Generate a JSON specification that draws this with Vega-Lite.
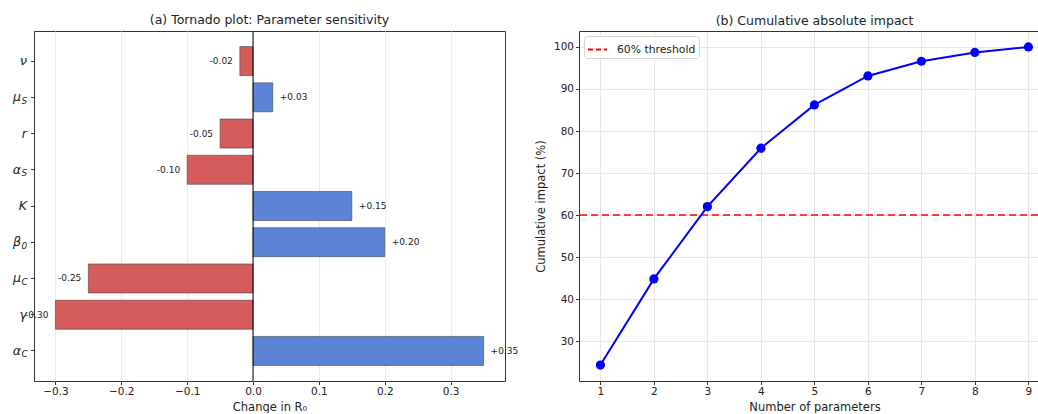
{
  "$schema": "https://vega.github.io/schema/vega-lite/v6.json",
  "padding": {"left": 12, "top": 13, "right": 0, "bottom": 0},
  "config": {
    "font": "DejaVu Sans",
    "view": {"stroke": null},
    "axis": {"labelFontSize": 10.5, "titleFontSize": 11.5, "titleFontWeight": "normal", "labelColor": "#222", "titleColor": "#222", "tickColor": "#333", "domainColor": "#333", "tickSize": 3.5, "titlePadding": 4},
    "title": {"fontSize": 12.5, "fontWeight": "normal", "color": "#222"}
  },
  "datasets": {
    "tornado": [
      {"param": "ν", "sym": "ν", "value": -0.02, "label": "-0.02"},
      {"param": "μ_S", "sym": "μ", "sub": "S", "value": 0.03, "label": "+0.03"},
      {"param": "r", "sym": "r", "value": -0.05, "label": "-0.05"},
      {"param": "α_S", "sym": "α", "sub": "S", "value": -0.10, "label": "-0.10"},
      {"param": "K", "sym": "K", "value": 0.15, "label": "+0.15"},
      {"param": "β_0", "sym": "β", "sub": "0", "value": 0.20, "label": "+0.20"},
      {"param": "μ_C", "sym": "μ", "sub": "C", "value": -0.25, "label": "-0.25"},
      {"param": "γ", "sym": "γ", "value": -0.30, "label": "-0.30"},
      {"param": "α_C", "sym": "α", "sub": "C", "value": 0.35, "label": "+0.35"}
    ],
    "cumulative": [
      {"n": 1, "pct": 24.3},
      {"n": 2, "pct": 44.8},
      {"n": 3, "pct": 62.0},
      {"n": 4, "pct": 75.9},
      {"n": 5, "pct": 86.2},
      {"n": 6, "pct": 93.1},
      {"n": 7, "pct": 96.6},
      {"n": 8, "pct": 98.7},
      {"n": 9, "pct": 100.0}
    ]
  },
  "resolve": {"scale": {"color": "independent"}, "legend": {"color": "independent"}},
  "spacing": 74,
  "bounds": "flush",
  "hconcat": [
    {
      "width": 471,
      "height": 350,
      "title": {"text": "(a) Tornado plot: Parameter sensitivity"},
      "view": {"stroke": "#333", "strokeWidth": 1},
      "layer": [
        {
          "data": {"name": "tornado"},
          "mark": {"type": "bar", "stroke": "#444", "strokeWidth": 0.6},
          "encoding": {
            "y": {"field": "param", "type": "nominal", "sort": null, "scale": {"paddingInner": 0.2, "paddingOuter": 0.43},
                  "axis": {"title": null, "labels": false, "domain": false, "grid": false}},
            "x": {"field": "value", "type": "quantitative", "scale": {"domain": [-0.3325, 0.3825], "nice": false},
                  "axis": {"values": [-0.3, -0.2, -0.1, 0, 0.1, 0.2, 0.3], "format": ".1f", "title": "Change in R₀", "grid": true, "gridColor": "#ebebeb", "domain": false}},
            "color": {"condition": {"test": "datum.value < 0", "value": "#d65b5b"}, "value": "#5b84d6"}
          }
        },
        {
          "data": {"values": [{}]},
          "mark": {"type": "rule", "color": "#000000", "strokeWidth": 1},
          "encoding": {"x": {"datum": 0}}
        },
        {
          "data": {"name": "tornado"},
          "transform": [{"filter": "!isValid(datum.sub)"}],
          "mark": {"type": "text", "align": "right", "baseline": "middle", "dx": -7, "fontSize": 12.5, "fontStyle": "italic", "color": "#222"},
          "encoding": {
            "y": {"field": "param", "type": "nominal", "sort": null},
            "x": {"datum": -0.3325},
            "text": {"field": "sym"}
          }
        },
        {
          "data": {"name": "tornado"},
          "transform": [{"filter": "isValid(datum.sub)"}],
          "mark": {"type": "text", "align": "right", "baseline": "middle", "dx": -13, "fontSize": 12.5, "fontStyle": "italic", "color": "#222"},
          "encoding": {
            "y": {"field": "param", "type": "nominal", "sort": null},
            "x": {"datum": -0.3325},
            "text": {"field": "sym"}
          }
        },
        {
          "data": {"name": "tornado"},
          "transform": [{"filter": "isValid(datum.sub)"}],
          "mark": {"type": "text", "align": "left", "baseline": "middle", "dx": -12.5, "dy": 3.5, "fontSize": 9, "fontStyle": "italic", "color": "#222"},
          "encoding": {
            "y": {"field": "param", "type": "nominal", "sort": null},
            "x": {"datum": -0.3325},
            "text": {"field": "sub"}
          }
        },
        {
          "data": {"name": "tornado"},
          "transform": [{"filter": "datum.value < 0"}],
          "mark": {"type": "text", "align": "right", "dx": -7, "fontSize": 9, "color": "#222"},
          "encoding": {
            "y": {"field": "param", "type": "nominal", "sort": null},
            "x": {"field": "value", "type": "quantitative"},
            "text": {"field": "label"}
          }
        },
        {
          "data": {"name": "tornado"},
          "transform": [{"filter": "datum.value >= 0"}],
          "mark": {"type": "text", "align": "left", "dx": 7, "fontSize": 9, "color": "#222"},
          "encoding": {
            "y": {"field": "param", "type": "nominal", "sort": null},
            "x": {"field": "value", "type": "quantitative"},
            "text": {"field": "label"}
          }
        }
      ]
    },
    {
      "width": 459,
      "height": 350,
      "title": {"text": "(b) Cumulative absolute impact", "dx": 6},
      "resolve": {"axis": {"x": "independent"}},
      "layer": [
        {
          "data": {"values": [{}]},
          "mark": {"type": "rule", "strokeDash": [7, 4], "strokeWidth": 1.5},
          "encoding": {
            "y": {"datum": 60, "type": "quantitative", "scale": {"domain": [20.5, 103.8], "nice": false, "zero": false},
                  "axis": {"values": [30, 40, 50, 60, 70, 80, 90, 100], "title": "Cumulative impact (%)", "grid": true, "gridColor": "#e6e6e6", "titlePadding": 7}},
            "color": {"datum": "60% threshold", "scale": {"range": ["#ff0000"]},
                      "legend": {"title": null, "orient": "top-left", "offset": 5, "symbolType": "stroke", "symbolDash": [5, 3], "symbolStrokeWidth": 2, "symbolSize": 360, "labelFontSize": 10.8, "labelColor": "#222", "fillColor": "white", "strokeColor": "#d5d5d5", "cornerRadius": 3, "padding": 3, "labelOffset": 9}}
          }
        },
        {
          "data": {"name": "cumulative"},
          "mark": {"type": "line", "color": "#0000ff", "strokeWidth": 2},
          "encoding": {
            "x": {"field": "n", "type": "quantitative", "scale": {"domain": [0.6, 9.18], "nice": false, "zero": false},
                  "axis": {"values": [1, 2, 3, 4, 5, 6, 7, 8, 9], "title": "Number of parameters", "grid": true, "gridColor": "#e6e6e6", "titleX": 235.5}},
            "y": {"field": "pct", "type": "quantitative"}
          }
        },
        {
          "data": {"name": "cumulative"},
          "mark": {"type": "point", "filled": true, "color": "#0000ff", "size": 85, "opacity": 1},
          "encoding": {
            "x": {"field": "n", "type": "quantitative",
                  "axis": {"orient": "top", "labels": false, "ticks": false, "grid": false, "title": null, "domain": true}},
            "y": {"field": "pct", "type": "quantitative"}
          }
        }
      ]
    }
  ]
}
